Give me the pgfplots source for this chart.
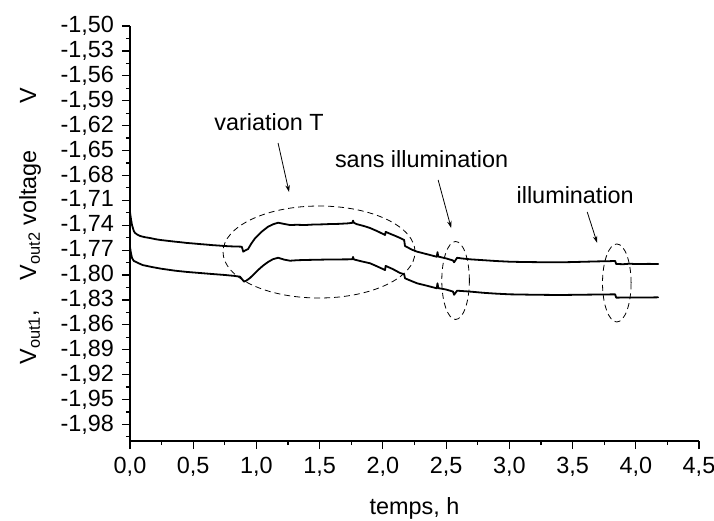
\documentclass[border=0pt]{standalone}
\usepackage{fontspec}
\setmainfont{Liberation Sans}
\usepackage{pgfplots}
\pgfplotsset{compat=1.18}
\usetikzlibrary{arrows.meta}

\pgfplotstableread{
x y
0.000 -1.7241
0.008 -1.7330
0.016 -1.7398
0.030 -1.7470
0.040 -1.7494
0.060 -1.7515
0.080 -1.7530
0.100 -1.7538
0.120 -1.7545
0.160 -1.7555
0.200 -1.7568
0.240 -1.7578
0.280 -1.7585
0.320 -1.7592
0.360 -1.7599
0.400 -1.7605
0.450 -1.7614
0.500 -1.7620
0.550 -1.7627
0.600 -1.7633
0.650 -1.7640
0.700 -1.7645
0.750 -1.7651
0.800 -1.7655
0.850 -1.7657
0.884 -1.7659
0.896 -1.7719
0.910 -1.7705
0.934 -1.7687
0.960 -1.7620
0.989 -1.7558
1.040 -1.7480
1.092 -1.7418
1.130 -1.7390
1.171 -1.7370
1.220 -1.7385
1.266 -1.7398
1.320 -1.7395
1.384 -1.7398
1.450 -1.7392
1.520 -1.7390
1.582 -1.7386
1.650 -1.7384
1.720 -1.7378
1.758 -1.7372
1.764 -1.7345
1.770 -1.7370
1.790 -1.7386
1.850 -1.7410
1.899 -1.7434
1.960 -1.7475
2.017 -1.7518
2.022 -1.7480
2.060 -1.7505
2.100 -1.7530
2.136 -1.7554
2.168 -1.7578
2.175 -1.7651
2.230 -1.7695
2.271 -1.7719
2.350 -1.7750
2.426 -1.7780
2.432 -1.7725
2.438 -1.7778
2.500 -1.7800
2.555 -1.7825
2.563 -1.7847
2.587 -1.7792
2.620 -1.7800
2.690 -1.7811
2.800 -1.7822
2.900 -1.7832
3.006 -1.7840
3.100 -1.7843
3.200 -1.7845
3.300 -1.7846
3.402 -1.7847
3.500 -1.7844
3.600 -1.7840
3.700 -1.7836
3.800 -1.7833
3.837 -1.7831
3.845 -1.7867
3.900 -1.7870
3.950 -1.7864
4.000 -1.7868
4.100 -1.7866
4.177 -1.7867
}\upperdata

\pgfplotstableread{
x y
0.000 -1.7663
0.008 -1.7740
0.016 -1.7795
0.030 -1.7830
0.063 -1.7855
0.100 -1.7880
0.174 -1.7904
0.250 -1.7925
0.356 -1.7948
0.450 -1.7963
0.554 -1.7976
0.650 -1.7988
0.752 -1.8000
0.820 -1.8010
0.870 -1.8020
0.902 -1.8080
0.920 -1.8068
0.949 -1.8036
0.980 -1.7990
1.013 -1.7940
1.050 -1.7890
1.092 -1.7843
1.130 -1.7810
1.171 -1.7792
1.220 -1.7815
1.266 -1.7828
1.320 -1.7822
1.384 -1.7819
1.480 -1.7816
1.582 -1.7813
1.680 -1.7812
1.758 -1.7811
1.764 -1.7783
1.770 -1.7812
1.830 -1.7835
1.899 -1.7859
1.960 -1.7900
2.017 -1.7940
2.022 -1.7890
2.080 -1.7930
2.136 -1.7976
2.168 -1.7990
2.175 -1.8040
2.230 -1.8075
2.271 -1.8100
2.350 -1.8130
2.426 -1.8160
2.432 -1.8100
2.438 -1.8158
2.500 -1.8175
2.555 -1.8200
2.563 -1.8238
2.587 -1.8189
2.690 -1.8200
2.800 -1.8215
2.900 -1.8225
3.006 -1.8233
3.200 -1.8238
3.402 -1.8241
3.600 -1.8237
3.837 -1.8233
3.845 -1.8273
3.950 -1.8270
4.050 -1.8272
4.177 -1.8269
}\lowerdata

\begin{document}
\fontsize{23.5}{27}\selectfont
\begin{tikzpicture}
\useasboundingbox (-130bp,-80bp) rectangle (584bp,441bp);
\begin{axis}[
  at={(0,0)}, anchor=south west,
  scale only axis, width=569bp, height=415bp,
  xmin=0, xmax=4.5, ymin=-2.0, ymax=-1.5,
  axis lines*=left,
  axis line style={line width=1.3bp},
  tick align=outside,
  major tick length=8bp, minor tick length=4bp,
  every tick/.style={black, line width=1.2bp},
  xtick={0,0.5,...,4.5},
  minor xtick={0.25,0.75,1.25,1.75,2.25,2.75,3.25,3.75,4.25},
  ytick={-1.98,-1.95,-1.92,-1.89,-1.86,-1.83,-1.80,-1.77,-1.74,-1.71,-1.68,-1.65,-1.62,-1.59,-1.56,-1.53,-1.50},
  minor ytick={-1.995,-1.965,-1.935,-1.905,-1.875,-1.845,-1.815,-1.785,-1.755,-1.725,-1.695,-1.665,-1.635,-1.605,-1.575,-1.545,-1.515},
  /pgf/number format/assume math mode=true,
  tick label style={font=\fontsize{23.5}{27}\selectfont},
  xticklabel style={/pgf/number format/.cd, fixed, fixed zerofill, precision=1, use comma},
  yticklabel style={/pgf/number format/.cd, fixed, fixed zerofill, precision=2, use comma},
  xlabel={temps, h},
  xlabel style={at={(axis description cs:0.5,-0.176)}, anchor=base, font=\fontsize{23.5}{27}\selectfont},
  ylabel={V\textsubscript{out1},\quad\ V\textsubscript{out2} voltage\qquad V},
  ylabel style={at={(axis description cs:-0.1757,0.518)}, anchor=center, font=\fontsize{23.5}{27}\selectfont},
  clip=false,
]
\addplot[black, line width=1.8bp, line join=round, line cap=round] table[x=x,y=y] {\upperdata};
\addplot[black, line width=1.8bp, line join=round, line cap=round] table[x=x,y=y] {\lowerdata};

\draw[dash pattern=on 6bp off 4bp, line width=0.8bp] (axis cs:1.495,-1.7723) ellipse [x radius=96bp, y radius=46bp];
\draw[dash pattern=on 6bp off 4bp, line width=0.8bp] (axis cs:2.575,-1.8066) ellipse [x radius=13.8bp, y radius=39bp];
\draw[dash pattern=on 6bp off 4bp, line width=0.8bp] (axis cs:3.850,-1.8096) ellipse [x radius=14.3bp, y radius=39bp];

\node[anchor=base, inner sep=0pt, font=\fontsize{23.5}{27}\selectfont] at (axis cs:1.100,-1.6253) {variation T};
\node[anchor=base, inner sep=0pt, font=\fontsize{23.5}{27}\selectfont] at (axis cs:2.306,-1.6699) {sans illumination};
\node[anchor=base, inner sep=0pt, font=\fontsize{23.5}{27}\selectfont] at (axis cs:3.521,-1.7136) {illumination};

\draw[line width=0.8bp, -{Stealth[length=7bp,width=4.5bp]}] (axis cs:1.171,-1.641) -- (axis cs:1.258,-1.7000);
\draw[line width=0.8bp, -{Stealth[length=7bp,width=4.5bp]}] (axis cs:2.437,-1.6855) -- (axis cs:2.540,-1.7434);
\draw[line width=0.8bp, -{Stealth[length=7bp,width=4.5bp]}] (axis cs:3.616,-1.7241) -- (axis cs:3.695,-1.7614);
\end{axis}
\end{tikzpicture}
\end{document}
